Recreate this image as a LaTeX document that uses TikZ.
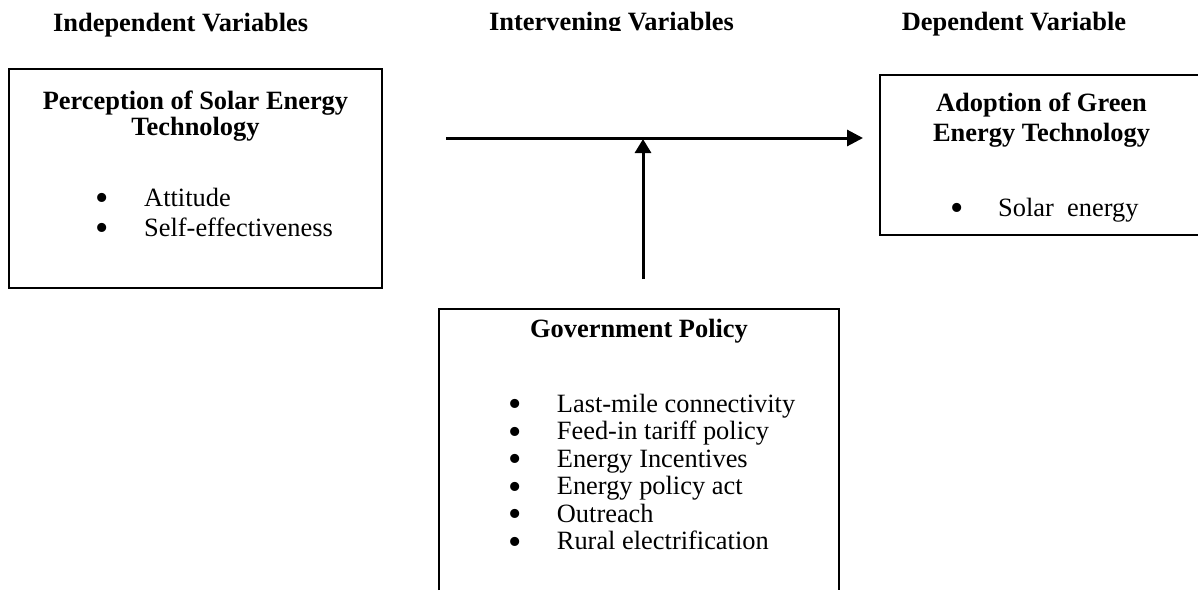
\documentclass[tikz,border=0pt]{standalone}
\usepackage{fontspec}
\setmainfont{Liberation Serif}
\usetikzlibrary{arrows.meta}
\begin{document}
\begin{tikzpicture}[x=1pt,y=-1pt,
  txt/.style={inner sep=0pt,font=\fontsize{26.4}{30}\selectfont},
  hdr/.style={inner sep=0pt,font=\fontsize{26.4}{30}\selectfont\bfseries,anchor=base west},
  ttl/.style={inner sep=0pt,font=\fontsize{26.4}{30}\selectfont\bfseries,anchor=base},
  item/.style={txt,anchor=base west},
  bul/.style={inner sep=0pt,font=\fontsize{38}{38}\selectfont,anchor=base,text height=8pt,text depth=0pt,yshift=-4.6pt},
  box/.style={draw=none,inner sep=0pt},
  border/.style={line width=2pt},
  conn/.style={line width=3pt,-{Triangle[length=16pt,width=16pt]}}]
\useasboundingbox (0,0) rectangle (1198,590);

% headers
\node[hdr] (h1) at (53,31.7) {Independent Variables};
\begin{scope}
  \clip (480,0) rectangle (760,30.8);
  \node[hdr] (h2) at (489,30) {Intervening Variables};
\end{scope}
\node[hdr] (h3) at (901.7,30) {Dependent Variable};

% boxes
\node[box,draw,line width=2pt,minimum width=373pt,minimum height=219pt] (perc) at (195.5,178.5) {};
\node[box,minimum width=318pt,minimum height=160pt] (adopt) at (1039,155) {};
\draw[border] (adopt.north east) -- (adopt.north west) -- (adopt.south west) -- (adopt.south east);
\node[box,minimum width=400pt,minimum height=281pt] (gov) at (639,449.5) {};
\draw[border] (gov.south west) -- (gov.north west) -- (gov.north east) -- (gov.south east);

% left box text
\node[ttl] (p1) at (195.5,109.3) {Perception of Solar Energy};
\node[ttl] (p2) at (195.5,135) {Technology};
\node[bul] (pb1) at (102.5,206) {\textbullet};
\node[item] (pi1) at (144,206) {Attitude};
\node[bul] (pb2) at (102.5,236) {\textbullet};
\node[item] (pi2) at (144,236) {Self-effectiveness};

% right box text
\node[ttl] (a1) at (1041.5,111.7) {Adoption of Green};
\node[ttl] (a2) at (1041.5,141.7) {Energy Technology};
\node[bul] (ab1) at (956.7,216) {\textbullet};
\node[item] (ai1) at (998,216) {Solar\ \ energy};

% government box text
\node[ttl] (g1) at (639,337.3) {Government Policy};
\foreach \t [count=\i] in {Last-mile connectivity,Feed-in tariff policy,Energy Incentives,Energy policy act,Outreach,Rural electrification}{
  \node[bul] (gb\i) at (515,{412.3+27.5*(\i-1)}) {\textbullet};
  \node[item] (gi\i) at (556.7,{412.3+27.5*(\i-1)}) {\t};
}

% connectors
\coordinate (hs) at (446,138);
\coordinate (he) at (863,138);
\coordinate (vs) at (643,279);
\coordinate (ve) at (643,139);
\draw[conn] (hs) -- (he);
\draw[line width=3pt,-{Triangle[length=14pt,width=16pt]}] (vs) -- (ve);
\end{tikzpicture}
\end{document}
